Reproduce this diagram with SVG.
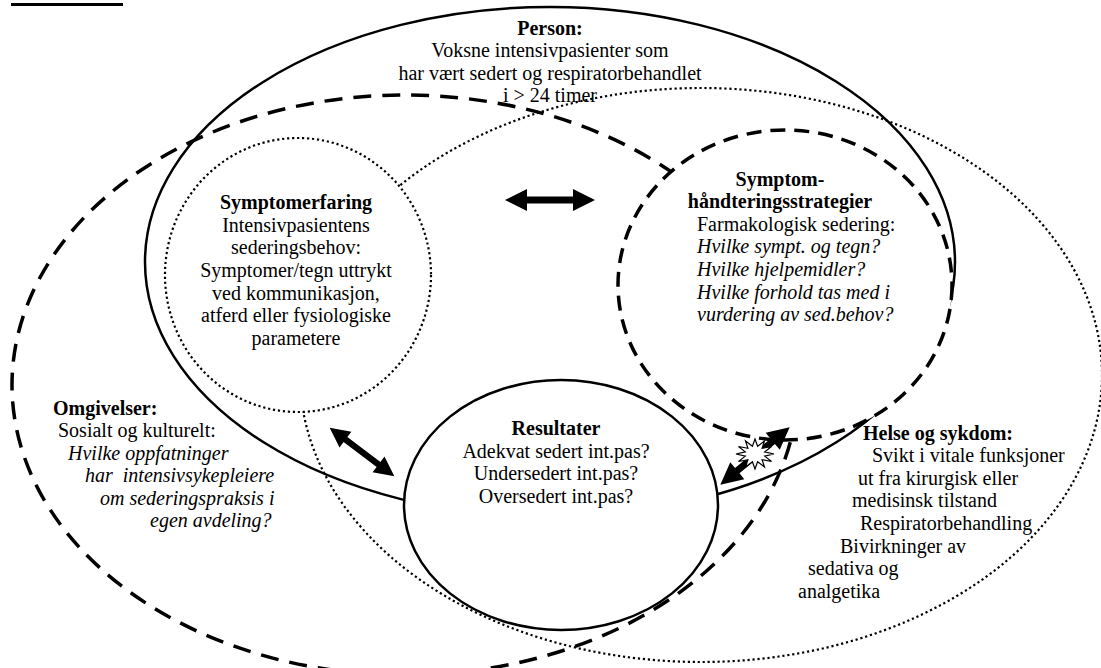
<svg xmlns="http://www.w3.org/2000/svg" width="1101" height="668" viewBox="0 0 1101 668">
<style>
text{font-family:"Liberation Serif","Times New Roman",serif;font-size:20px;fill:#000}
.b{font-weight:bold}
.i{font-style:italic}
.c{text-anchor:middle}
.solid{fill:none;stroke:#000;stroke-width:2.5}
.dash{fill:none;stroke:#000;stroke-width:3.5;stroke-dasharray:18 11}
.dash2{fill:none;stroke:#000;stroke-width:3.5;stroke-dasharray:15 9}
.dot{fill:none;stroke:#000;stroke-width:2.2;stroke-dasharray:2.2 2.8}
.wf{fill:#fff}
.arr{fill:#000}
</style>
<defs>
<path id="dbl" d="M-45,0 L-23,-11 L-23,-3.5 L23,-3.5 L23,-11 L45,0 L23,11 L23,3.5 L-23,3.5 L-23,11 Z"/>
</defs>
<rect x="11" y="3" width="112" height="3" fill="#000"/>
<g id="omgivelser">
<ellipse class="dash" cx="405" cy="385" rx="393" ry="290"/>
<text class="b" x="53" y="415">Omgivelser:</text>
<text x="58" y="437">Sosialt og kulturelt:</text>
<text class="i" x="68" y="460">Hvilke oppfatninger</text>
<text class="i" x="85" y="482" xml:space="preserve">har  intensivsykepleiere</text>
<text class="i" x="100" y="505">om sederingspraksis i</text>
<text class="i" x="150" y="527">egen avdeling?</text>
</g>
<g id="helse">
<ellipse class="dot" cx="701" cy="375" rx="401" ry="287"/>
<text class="b" x="863" y="440">Helse og sykdom:</text>
<text x="872" y="462">Svikt i vitale funksjoner</text>
<text x="858" y="485">ut fra kirurgisk eller</text>
<text x="852" y="507">medisinsk tilstand</text>
<text x="860" y="530">Respiratorbehandling</text>
<text x="840" y="553">Bivirkninger av</text>
<text x="808" y="575">sedativa og</text>
<text x="798" y="598">analgetika</text>
</g>
<g id="person">
<ellipse class="solid" cx="550" cy="262" rx="405" ry="255"/>
<text class="b c" x="550" y="35">Person:</text>
<text class="c" x="550" y="57">Voksne intensivpasienter som</text>
<text class="c" x="550" y="80">har vært sedert og respiratorbehandlet</text>
<text class="c" x="550" y="102">i &gt; 24 timer</text>
</g>
<g id="symptomerfaring">
<ellipse class="dot wf" cx="298" cy="275" rx="133" ry="137"/>
<text class="b c" x="296" y="209">Symptomerfaring</text>
<text class="c" x="296" y="232">Intensivpasientens</text>
<text class="c" x="296" y="254">sederingsbehov:</text>
<text class="c" x="296" y="277">Symptomer/tegn uttrykt</text>
<text class="c" x="296" y="300">ved kommunikasjon,</text>
<text class="c" x="296" y="322">atferd eller fysiologiske</text>
<text class="c" x="296" y="345">parametere</text>
</g>
<g id="symptomhandtering">
<ellipse class="dash2 wf" cx="785" cy="285" rx="167" ry="155"/>
<text class="b c" x="780" y="186">Symptom-</text>
<text class="b c" x="780" y="208">håndteringsstrategier</text>
<text x="697" y="231">Farmakologisk sedering:</text>
<text class="i" x="697" y="253">Hvilke sympt. og tegn?</text>
<text class="i" x="697" y="276">Hvilke hjelpemidler?</text>
<text class="i" x="697" y="299">Hvilke forhold tas med i</text>
<text class="i" x="697" y="321">vurdering av sed.behov?</text>
</g>
<g id="resultater">
<ellipse class="solid wf" cx="561" cy="505" rx="157" ry="125"/>
<text class="b c" x="556" y="435">Resultater</text>
<text class="c" x="556" y="458">Adekvat sedert int.pas?</text>
<text class="c" x="556" y="480">Undersedert int.pas?</text>
<text class="c" x="556" y="503">Oversedert int.pas?</text>
</g>
<g id="connectors">
<use href="#dbl" class="arr" transform="translate(550,200)"/>
<use href="#dbl" class="arr" transform="translate(362,452) rotate(37) scale(0.9)"/>
<use href="#dbl" class="arr" transform="translate(755,456) rotate(-39.6)"/>
<polygon fill="#fff" stroke="#000" stroke-width="1.2" points="774,454 764.7,451.9 771.5,446.5 762.1,448.3 764.5,441 757.6,446.3 755,439 752.4,446.3 745.5,441 747.9,448.3 738.5,446.5 745.3,451.9 736,454 745.3,456.1 738.5,461.5 747.9,459.7 745.5,467 752.4,461.7 755,469 757.6,461.7 764.5,467 762.1,459.7 771.5,461.5 764.7,456.1"/>
</g>
</svg>
